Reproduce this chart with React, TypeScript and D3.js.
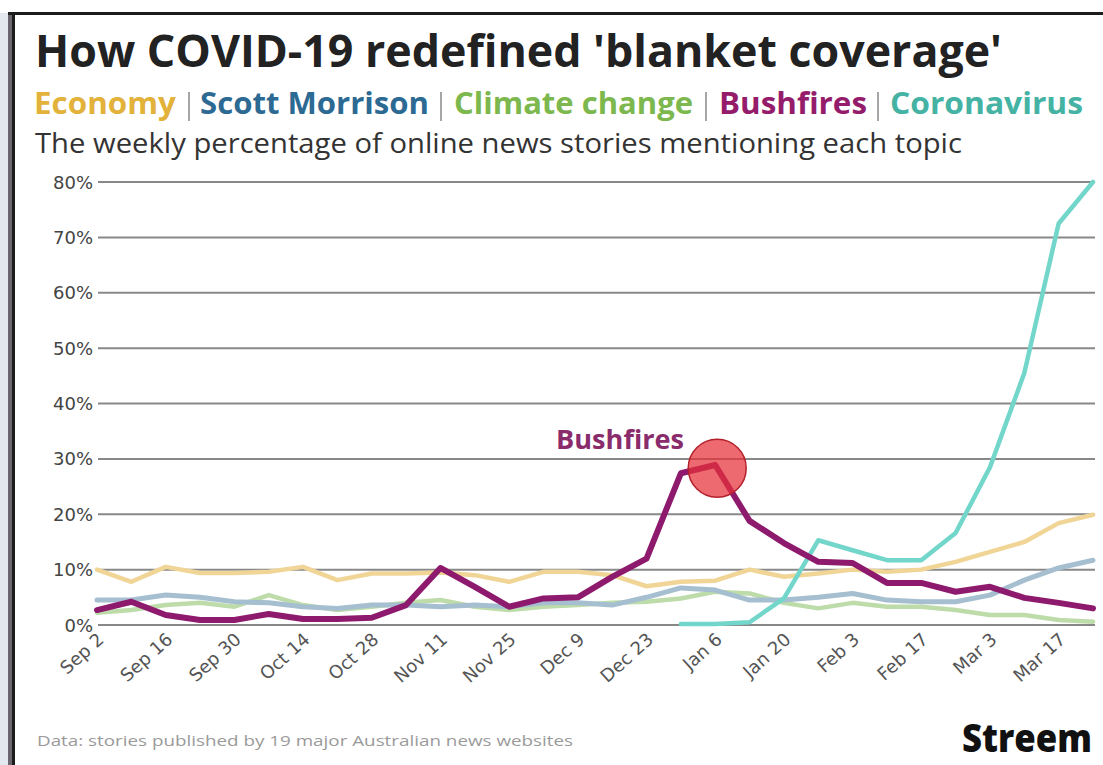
import React from "react";
import * as d3 from "d3";

const weekCount = 30;
const tickLabels = ["Sep 2", "Sep 16", "Sep 30", "Oct 14", "Oct 28", "Nov 11", "Nov 25", "Dec 9", "Dec 23", "Jan 6", "Jan 20", "Feb 3", "Feb 17", "Mar 3", "Mar 17"];
const yTicks = [0, 10, 20, 30, 40, 50, 60, 70, 80];

const economy = [10, 7.8, 10.5, 9.4, 9.4, 9.6, 10.5, 8.1, 9.3, 9.3, 9.5, 9, 7.8, 9.6, 9.6, 9, 7, 7.8, 8, 10, 8.7, 9.3, 10, 9.6, 10, 11.4, 13.2, 15, 18.4, 19.9];
const scottMorrison = [4.5, 4.5, 5.4, 5, 4.2, 4, 3.3, 3, 3.6, 3.6, 3.3, 3.6, 3.3, 4, 4, 3.6, 5, 6.7, 6.3, 4.5, 4.5, 5, 5.7, 4.5, 4.2, 4.2, 5.4, 8.1, 10.3, 11.7];
const climateChange = [2.2, 2.7, 3.6, 4, 3.3, 5.4, 3.6, 2.7, 3.3, 4, 4.5, 3.3, 2.7, 3.3, 3.6, 4, 4.2, 4.8, 6, 5.7, 4, 3, 4, 3.3, 3.3, 2.7, 1.8, 1.8, 0.9, 0.6];
const bushfires = [2.7, 4.2, 1.8, 0.9, 0.9, 2, 1.1, 1.1, 1.3, 3.6, 10.3, 6.9, 3.3, 4.8, 5, 8.7, 12, 27.4, 28.9, 18.8, 14.8, 11.4, 11.2, 7.6, 7.6, 6, 6.9, 4.9, 4, 3];
const coronavirus: (number | null)[] = [null, null, null, null, null, null, null, null, null, null, null, null, null, null, null, null, null, 0.2, 0.2, 0.5, 4.8, 15.3, 13.5, 11.7, 11.7, 16.6, 28.5, 45.5, 72.5, 80];

const highlightIndex = 18;
const highlightValue = 28.5;

const series = [
  { name: "Climate change", values: climateChange as (number | null)[], color: "#bddcaa", width: 4.5 },
  { name: "Economy", values: economy as (number | null)[], color: "#f0d596", width: 4.5 },
  { name: "Scott Morrison", values: scottMorrison as (number | null)[], color: "#a6bfd0", width: 5 },
  { name: "Coronavirus", values: coronavirus, color: "#72d6ca", width: 4.5 },
  { name: "Bushfires", values: bushfires as (number | null)[], color: "#8e1a6e", width: 6 },
];

const legendItems = [
  { text: "Economy", color: "#e2b23a", x0: 34, x1: 176 },
  { text: "Scott Morrison", color: "#2c6a93", x0: 200, x1: 429 },
  { text: "Climate change", color: "#7cb84e", x0: 454, x1: 693 },
  { text: "Bushfires", color: "#951c6b", x0: 719, x1: 867 },
  { text: "Coronavirus", color: "#45b3a4", x0: 890, x1: 1083 },
];
const separators = [189, 441, 706, 878];

export default function App() {
  const W = 1103, H = 765;
  const x = d3.scaleLinear().domain([0, weekCount - 1]).range([97, 1093]);
  const y = d3.scaleLinear().domain([0, 80]).range([625, 182]);
  const line = d3
    .line<number | null>()
    .defined((d) => d !== null)
    .x((_, i) => x(i))
    .y((d) => y(d as number));

  const font = "'Open Sans', 'Noto Sans', sans-serif";
  return (
    <div style={{ position: "absolute", left: 0, top: 0 }}>
      <svg width={W} height={H} style={{ display: "block" }}>
        <rect x={0} y={0} width={W} height={H} fill="#ffffff" />
        <rect x={0} y={13} width={8} height={H - 13} fill="#e3e7ee" />
        <rect x={8} y={13} width={4} height={H - 13} fill="#6b6570" />
        <rect x={12} y={13} width={3} height={H - 13} fill="#1c1c1c" />
        <rect x={8} y={12} width={W - 8} height={3} fill="#1c1c1c" />

        <text x={35} y={67} fontFamily={font} fontWeight={700} fontSize={45} fill="#222" textLength={967} lengthAdjust="spacingAndGlyphs">
          How COVID-19 redefined 'blanket coverage'
        </text>

        {legendItems.map((it) => (
          <text key={it.text} x={it.x0} y={114} fontFamily={font} fontWeight={700} fontSize={30} fill={it.color} textLength={it.x1 - it.x0} lengthAdjust="spacingAndGlyphs">
            {it.text}
          </text>
        ))}
        {separators.map((sx) => (
          <line key={sx} x1={sx} x2={sx} y1={92} y2={121} stroke="#888" strokeWidth={1.5} />
        ))}

        <text x={35} y={153} fontFamily={font} fontWeight={400} fontSize={28} fill="#333" textLength={927} lengthAdjust="spacingAndGlyphs">
          The weekly percentage of online news stories mentioning each topic
        </text>

        {yTicks.map((t) => (
          <g key={t}>
            <line x1={98} x2={1095} y1={y(t)} y2={y(t)} stroke="#888" strokeWidth={2} />
            <text x={93} y={y(t)} textAnchor="end" dominantBaseline="central" fontFamily="'DejaVu Sans', sans-serif" fontSize={18} fill="#444">
              {t}%
            </text>
          </g>
        ))}

        {tickLabels.map((lab, k) => {
          const i = k * 2;
          return (
            <text key={lab} transform={`translate(${x(i) + 8},${641}) rotate(-42)`} textAnchor="end" fontFamily="'DejaVu Sans', sans-serif" fontSize={18} fill="#555">
              {lab}
            </text>
          );
        })}

        {series.map((s) => (
          <path key={s.name} d={line(s.values) || ""} fill="none" stroke={s.color} strokeWidth={s.width} strokeLinejoin="round" strokeLinecap="round" />
        ))}

        <circle cx={x(highlightIndex) + 2} cy={y(highlightValue) + 1} r={29} fill="#e8303a" fillOpacity={0.72} stroke="#b3202b" strokeWidth={1.5} />
        <text x={556} y={449} fontFamily={font} fontWeight={700} fontSize={27} fill="#8a2c6c" textLength={128} lengthAdjust="spacingAndGlyphs">
          Bushfires
        </text>

        <text x={37} y={746} fontFamily={font} fontSize={15} fill="#9a9a9a" textLength={536} lengthAdjust="spacingAndGlyphs">
          Data: stories published by 19 major Australian news websites
        </text>
        <text x={962} y={752} fontFamily={font} fontWeight={800} fontSize={38} fill="#111" textLength={130} lengthAdjust="spacingAndGlyphs">
          Streem
        </text>
      </svg>
    </div>
  );
}
